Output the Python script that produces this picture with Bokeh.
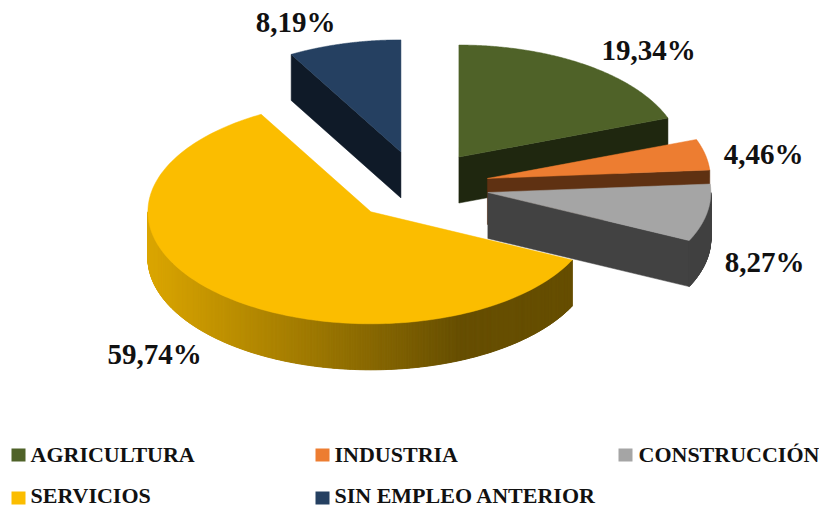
import numpy as np
from bokeh.plotting import figure
from bokeh.models import Range1d
from bokeh.core.properties import value
from bokeh.embed import file_html
from bokeh.resources import INLINE

categories = ["AGRICULTURA", "INDUSTRIA", "CONSTRUCCIÓN", "SERVICIOS", "SIN EMPLEO ANTERIOR"]
shares = [19.34, 4.46, 8.27, 59.74, 8.19]
labels = ["19,34%", "4,46%", "8,27%", "59,74%", "8,19%"]

top_colors = ["#4F6228", "#ED7D31", "#A5A5A5", "#FBBD00", "#254061"]
side_colors = ["#1F270F", "#5F3112", "#424242", "#664E00", "#0F1A28"]
rim_light = "#DBA600"

# layout of the projected pie, in page pixels
CX, CY, RX, RY, DEPTH, EXPLODE = 418.3, 185.5, 223.0, 112.0, 46.0, 0.315
label_x = [648, 763, 764, 154, 295]
label_y = [49, 153, 261, 353, 21]
swatch_x = [11, 315, 618, 11, 315]
swatch_y = [448, 448, 448, 491, 491]
legend_text_x = [30, 334, 638, 30, 334]
legend_text_y = [453.5, 453.5, 453.5, 494.5, 494.5]
LEG_W, LEG_H = 14, 13
FONT = value("Liberation Serif")

p = figure(width=819, height=506, x_range=Range1d(0, 819), y_range=Range1d(506, 0),
           output_backend="svg", toolbar_location=None, min_border=0,
           background_fill_color="white", border_fill_color="white")
p.axis.visible = False
p.grid.visible = False
p.outline_line_color = None

total = sum(shares)
bounds = np.concatenate([[0.0], np.cumsum(shares)]) / total * 2 * np.pi


def hex_rgb(c):
    return np.array([int(c[i:i + 2], 16) for i in (1, 3, 5)], dtype=float)


def mix(a, b, f):
    c = hex_rgb(a) * (1 - f) + hex_rgb(b) * f
    return "#%02X%02X%02X" % tuple(int(round(v)) for v in c)


def slice_geometry(i):
    t0, t1 = bounds[i], bounds[i + 1]
    m = (t0 + t1) / 2
    ax = CX + EXPLODE * RX * np.sin(m)
    ay = CY - EXPLODE * RY * np.cos(m)
    return t0, t1, ax, ay


def rim_xy(ax, ay, t):
    return ax + RX * np.sin(t), ay - RY * np.cos(t)


def draw_slice(i):
    t0, t1, ax, ay = slice_geometry(i)
    side = side_colors[i]
    # visible cut faces
    for t, visible in ((t0, np.sin(t0) < -1e-6), (t1, np.sin(t1) > 1e-6)):
        if visible:
            rx, ry = rim_xy(ax, ay, t)
            p.patch([ax, rx, rx, ax], [ay, ry, ry + DEPTH, ay + DEPTH],
                    fill_color=side, line_color=side, line_width=0.5)
    # visible outer wall
    a = max(t0, np.pi / 2)
    b = min(t1, 3 * np.pi / 2)
    if a < b:
        ts = np.linspace(a, b, max(3, int((b - a) * 180)))
        xs, ys, cs = [], [], []
        for u, v in zip(ts[:-1], ts[1:]):
            x0, y0 = rim_xy(ax, ay, u)
            x1, y1 = rim_xy(ax, ay, v)
            xs.append([x0, x1, x1, x0])
            ys.append([y0, y1, y1 + DEPTH, y0 + DEPTH])
            if i == 3:
                left = ax - RX
                f = np.clip(((x0 + x1) / 2 - left) / (0.7 * 2 * RX), 0, 1)
                cs.append(mix(rim_light, side, f))
            else:
                cs.append(side)
        p.patches(xs, ys, fill_color=cs, line_color=cs, line_width=1)
    # top face
    ts = np.linspace(t0, t1, 160)
    x, y = rim_xy(ax, ay, ts)
    p.patch(np.r_[ax, x], np.r_[ay, y], fill_color=top_colors[i], line_color=top_colors[i], line_width=0.5)


for i in (4, 0, 1, 2, 3):
    draw_slice(i)

p.text(label_x, label_y, text=labels, text_font=FONT, text_font_style="bold",
       text_font_size="29px", text_color="#111111", text_align="center", text_baseline="middle")

p.quad(left=swatch_x, right=[x + LEG_W for x in swatch_x],
       top=swatch_y, bottom=[y + LEG_H for y in swatch_y],
       fill_color=top_colors, line_color=None)
p.text(legend_text_x, legend_text_y, text=categories,
       text_font=FONT, text_font_style="bold", text_font_size="22px", text_color="#111111",
       text_align="left", text_baseline="middle")

open("out.html", "w").write(file_html(p, INLINE))
